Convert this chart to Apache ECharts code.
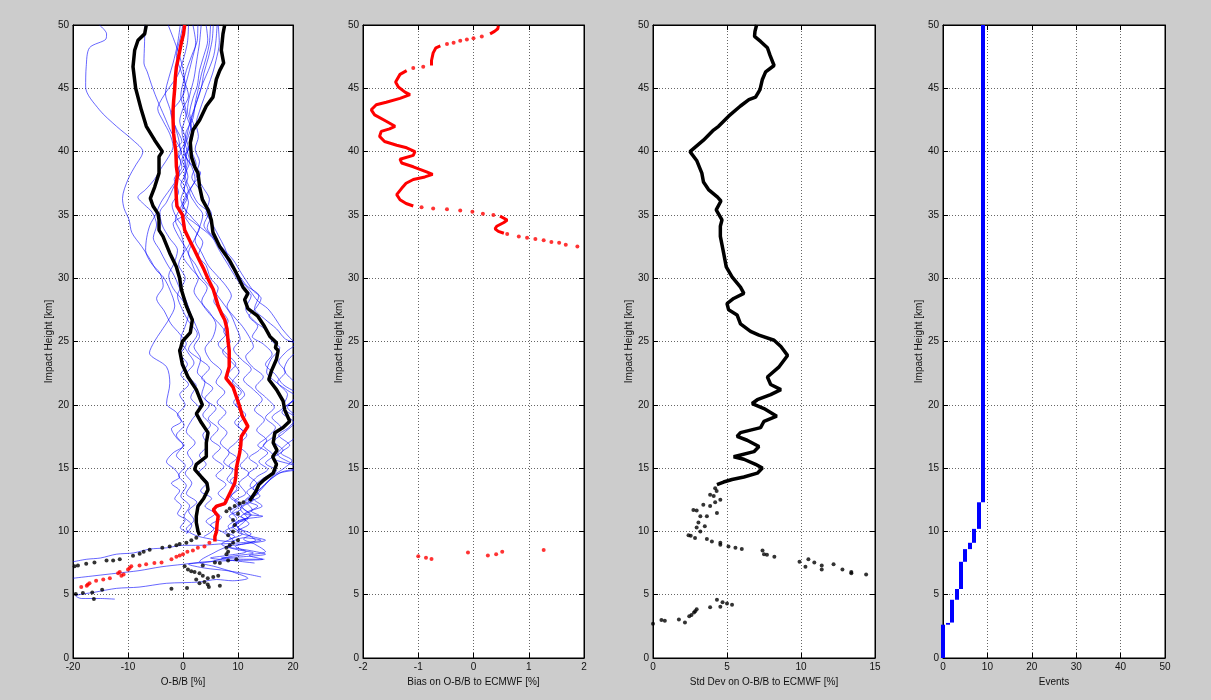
<!DOCTYPE html>
<html><head><meta charset="utf-8">
<script src="https://cdn.jsdelivr.net/npm/echarts/dist/echarts.min.js"></script>
<style>html,body{margin:0;padding:0;background:#cccccc}#c{width:1211px;height:700px}</style>
</head><body><div id="c"></div><script>
// ---------- Panel 1: O-B/B [%] ----------
const meanLine = [[0.3,50],[0.1,49.3],[-0.3,48.6],[-0.8,47.5],[-1.2,46.7],[-1.4,45.8],[-1.5,45],[-1.7,44],[-1.8,43.3],[-1.8,42.4],[-1.7,41.4],[-1.5,40.6],[-1.3,40],[-1.2,38.8],[-1.0,38.2],[-1.3,37.2],[-1.2,36.2],[-1.1,35.7],[-0.4,35.2],[-0.1,35],[0.3,33.8],[1.2,33],[2.0,32.3],[3.0,31.4],[3.8,30.7],[4.5,30],[5.5,29.1],[6.0,28.4],[6.4,27.8],[7.0,27.2],[7.6,26.7],[8.0,26],[8.2,25],[8.4,24.3],[8.4,23],[7.8,22.1],[9.1,21.4],[10.2,20],[10.8,19.1],[11.8,18.3],[10.6,17.5],[10.5,16.8],[10.3,16.2],[9.7,15],[9.6,14.3],[9.4,13.8],[8.5,13.0],[7.6,12.2],[6.1,12.0],[5.5,11.7],[6.4,11.2],[6.2,10.6],[6.1,10],[5.8,9.6],[5.8,9.2]];
const meanDots = [[4.8,9.1],[3.9,8.8],[2.7,8.7],[1.8,8.5],[0.8,8.4],[0.0,8.2],[-0.6,8.1],[-1.2,8.0],[-2.1,7.8],[-3.9,7.55],[-5.2,7.5],[-6.7,7.4],[-7.9,7.3],[-9.4,7.25],[-9.7,7.1],[-10.0,7.0],[-11.5,6.8],[-11.8,6.7],[-10.8,6.6],[-11.2,6.5],[-13.3,6.3],[-14.5,6.2],[-15.8,6.1],[-17.0,5.9],[-17.3,5.8],[-17.5,5.7],[-18.5,5.6]];
const lowerLine = [[-6.67,50],[-6.97,49.3],[-8.18,48.8],[-8.79,48],[-9.09,46.7],[-8.61,45],[-7.58,43.3],[-6.67,42],[-5.15,40.9],[-3.76,40],[-4.36,39.6],[-4.36,38.3],[-5.15,37.2],[-5.94,36.3],[-5.45,35.7],[-4.55,35.1],[-4.36,34.6],[-4.36,33.8],[-3.64,33.3],[-2.42,32],[-1.21,30.9],[-0.61,30],[-0.3,29.1],[0.61,27.8],[1.7,26.7],[1.33,25.7],[-0.12,25],[-0.42,24.5],[-0.61,24.3],[-0.12,23.2],[0.91,22.2],[2.42,21.2],[3.52,20],[2.42,19.3],[3.33,18.6],[4.55,17.8],[4.24,17],[4.24,15.9],[2.42,15.3],[2.12,14.9],[3.33,14.3],[4.36,13.8],[4.55,13.3],[3.76,12.6],[2.73,12],[2.42,11.2],[2.42,10.7],[2.73,10],[3.03,9.7]];
const lowerDots = [[2.42,9.5],[1.52,9.3],[0.61,9.1],[-0.61,9.0],[-1.21,8.9],[-2.42,8.8],[-3.76,8.7],[-6.06,8.55],[-7.15,8.4],[-7.88,8.24],[-9.09,8.08],[-11.5,7.8],[-12.7,7.7],[-13.9,7.7],[-16.1,7.55],[-17.6,7.45],[-19.1,7.3],[-19.7,7.24],[-18.2,5.13],[-19.5,5.05],[-16.5,5.18],[-14.7,5.4],[-16.2,4.66]];
const upperLine = [[7.58,50],[7.27,49.3],[6.97,48],[7.39,47],[6.67,46.4],[6.06,45.7],[5.45,44.3],[4.24,43.6],[3.03,42.5],[1.82,41.7],[1.33,40.7],[1.52,39.6],[2.12,38.8],[2.73,38.3],[3.03,37.2],[3.52,36.2],[4.55,35.4],[5.15,34.6],[5.45,33.6],[6.67,32.5],[8.48,31.4],[9.7,30.4],[10.9,29.3],[11.8,28.8],[11.2,28.3],[11.8,27.6],[13.6,27.0],[14.8,26.2],[15.8,25.4],[17.0,24.9],[16.8,24.5],[17.3,24.3],[17.0,23.6],[16.1,22.7],[15.6,22.0],[17.0,21.2],[18.2,20.3],[18.5,19.6],[19.4,18.7],[18.2,18.2],[16.7,17.8],[16.4,17.0],[17.1,16.4],[16.3,15.9],[17.0,15.3],[16.4,14.6],[14.8,14.1],[13.8,13.7],[13.3,13.2],[12.7,12.8],[12.1,12.4]];
const upperDots = [[11.0,12.3],[10.3,12.2],[9.4,12.0],[8.5,11.8],[7.9,11.6],[10.0,11.4],[9.1,10.9],[9.4,10.5],[9.1,10.0],[8.2,9.7],[10.0,9.3],[9.1,9.1],[8.5,8.9],[7.9,8.7],[8.2,8.4],[7.9,8.2],[9.7,7.8],[8.2,7.7],[6.7,7.5],[5.8,7.55],[3.6,7.3],[0.3,7.24],[0.9,7.0],[1.5,6.85],[2.1,6.8],[3.0,6.7],[3.6,6.5],[4.5,6.3],[5.5,6.4],[6.4,6.5],[2.4,6.2],[3.0,5.9],[3.9,6.0],[4.5,5.8],[4.7,5.6],[6.7,5.7],[-2.1,5.47],[0.73,5.53]];

const profile01 = [[-15.2,50],[-13.9,49.3],[-14,48.9],[-17,48.2],[-17.6,46.7],[-17.7,45.1],[-15.2,43.3],[-12.1,42],[-9.1,40.9],[-7.3,40],[-7.6,39.6],[-8.5,39],[-10,37.8],[-11,36.3],[-10.7,35.5],[-9.8,34.6],[-9.3,33.6],[-7.5,32.5],[-6,31.5],[-4.8,30.6],[-3.6,30.1],[-2.4,29.1],[-1.5,27.8],[-2.5,26.8],[-4,25.8],[-5.2,25.0],[-6.1,24.1],[-3,23],[-2.4,21.7],[-3.0,20.1],[-1.2,19.4],[-0.3,18.7],[-2.1,18.1],[-1.0,17.3],[0.2,16.8],[-1.8,16.2],[-3.0,15.5],[-1.5,14.9],[-0.6,14.3],[-2.1,13.8],[-0.6,13.2],[-1.5,12.6],[-0.3,12.0],[-1.0,11.4],[0.4,10.9],[-0.5,10.3],[1.0,9.9]];
const profile02 = [[-6.9,50],[-7.0,48.5],[-7.1,47],[-6.5,46.3],[-5.5,45],[-4.6,44],[-3.4,42.8],[-2.2,41.6],[-0.8,40.5],[-0.3,40],[-1.2,39.2],[-0.6,38.4],[-1.6,37.3],[-3.0,36],[-4.2,35.2],[-3.8,34.2],[-2.5,33.2],[-1.0,32.2],[-1.6,31.2],[-2.6,30.2],[-1.8,29.2],[0.0,28.2],[1.0,27.2],[0.4,26.2],[-0.4,25.2],[0.8,24.2],[2.0,23.3],[0.6,22.4],[2.4,21.5],[1.4,20.6],[3.0,19.7],[1.6,18.8],[0.6,17.9],[2.2,17.0],[0.8,16.2],[1.8,15.4],[0.4,14.6],[1.6,13.8],[0.6,13.0],[2.5,12.3],[1.0,11.6],[2.0,10.9],[0.6,10.2],[2.2,9.7],[5.0,9.4],[8.5,9.2],[11.0,9.5],[14.2,9.3],[10.5,9.1],[6.5,9.0],[3.0,8.9],[0.0,8.9],[-3.0,8.7],[-6.1,8.6],[-9.0,8.3],[-12.1,8.2],[-15.0,7.9],[-17.5,7.8],[-20,7.6]];
const profile03 = [[-2.7,50],[-1.8,49],[-0.8,47.8],[0.0,46.5],[0.4,45],[-0.6,44],[-2.2,43],[-1.2,41.8],[-0.2,40.8],[-1.5,40.1],[-0.4,39.2],[-1.1,38.2],[0.3,37.2],[-0.4,36.2],[0.6,35.2],[-1.8,34.3],[-0.8,33.3],[0.6,32.3],[1.6,31.2],[2.6,30.2],[4.4,29.2],[3.4,28.2],[5.0,27.2],[6.0,26.3],[5.4,25.3],[4.0,24.4],[5.0,23.5],[7.0,22.6],[6.0,21.8],[7.6,21],[6.2,20.2],[7.8,19.4],[6.4,18.6],[8.0,17.8],[6.8,17],[8.4,16.2],[7.4,15.5],[9.0,14.8],[8.0,14.1],[9.8,13.4],[8.6,12.7],[10.4,12.1],[9.0,11.5],[11.4,10.9],[10.0,10.3],[12.4,9.8],[11.0,9.4],[13.0,9.0],[15.0,8.4],[12.0,8.1],[14.5,7.8],[9.0,7.7],[4.0,7.6],[0.0,7.4],[-4.0,7.2],[-8.0,6.9],[-12.0,6.7],[-16.0,6.5],[-20,6.3]];
const profile04 = [[1.8,50],[2.3,48.6],[1.6,47.2],[0.8,45.8],[0.0,44.4],[0.6,43],[-0.2,41.6],[0.6,40.3],[1.2,39.2],[0.4,38.1],[1.4,37],[2.6,36],[4.6,35.1],[3.8,34.2],[5.4,33.2],[6.6,32.2],[8.0,31.2],[9.4,30.2],[10.8,29.3],[12.4,28.6],[11.4,27.6],[13.0,26.6],[15.4,25.8],[16.2,25],[17.6,24.5],[16.0,23.6],[15.2,22.6],[17.4,21.6],[19.0,20.8],[18.2,19.8],[20.6,19],[22,18.2],[20.4,17.4],[18.6,16.8],[17.2,16.1],[19.2,15.5],[21.5,15.1],[18,14.7],[16.2,14.2],[14.6,13.6],[13.2,13],[11.6,12.6],[10.6,12.0],[12.4,11.3],[9.6,10.6],[11.2,9.9],[13.2,9.3],[9.5,8.8],[11.5,8.4],[8.0,8.1],[5.0,7.9],[9.0,7.7],[13.0,7.5]];
const profile05 = [[3.3,50],[3.0,48.6],[2.5,47.2],[2.0,45.8],[1.2,44.4],[0.8,43.2],[1.5,42.1],[0.8,41],[0.1,40],[1.5,39],[3.2,38.3],[2.0,37.5],[0.6,36.6],[-0.4,35.6],[-1.4,34.6],[-0.4,33.6],[0.2,32.3],[-0.8,31.1],[0.4,30],[-1.0,28.6],[-0.2,27.6],[1.0,26.6],[2.6,25.6],[1.0,24.4],[3.0,23.6],[4.8,22.9],[3.4,22.1],[5.4,21.3],[4.0,20.5],[6.0,19.7],[4.6,18.9],[6.4,18.1],[5.0,17.3],[6.8,16.6],[5.4,15.9],[7.4,15.1],[6.0,14.4],[7.8,13.7],[6.4,13],[8.0,12.3],[5.6,11.7],[7.0,11.1],[5.0,10.5],[7.4,9.9],[9.2,9.2],[6.0,8.4],[3.0,7.6],[6.0,7.2],[9.0,6.8],[11.8,6.3],[9.0,6.1],[6.1,6.2],[3.0,6.0],[-3.0,5.9],[-8.0,5.6],[-12.1,5.5],[-16.0,5.2],[-19.5,4.9],[-18.5,4.7],[-15,4.7],[-12.4,4.65]];
const profile06 = [[4.2,50],[4.5,48.8],[3.8,47.6],[3.0,46.4],[2.6,45.2],[1.8,44.2],[1.2,43],[2.0,42],[1.2,41],[1.6,40],[2.4,39],[1.6,38],[3.0,37],[4.0,36],[5.2,35],[4.4,34],[6.0,33],[7.4,32],[8.6,31],[10.2,30.2],[11.6,29.4],[13.8,28.6],[13.0,27.6],[14.8,26.8],[17.0,26.0],[18.6,25.2],[21.5,24.6],[19.2,23.6],[18.4,22.8],[19.8,22.0],[22,21.3],[19.6,20.2],[18.0,19.4],[20.2,18.6],[18.4,17.8],[16.6,17.1],[18.2,16.4],[16.4,15.8],[19.6,15.3],[22,15.0],[17.5,14.6],[15.6,14.0],[14.2,13.4],[12.8,12.9],[11.8,12.4],[13.6,12.0],[11.2,11.4],[14.5,11.2],[10.4,10.9],[9.0,10.4],[10.8,9.8],[8.4,9.4]];
const profile07 = [[5.5,50],[5.3,48.8],[4.6,47.4],[3.8,46.2],[3.3,45],[2.4,43.8],[1.4,42.6],[0.8,41.4],[0.2,40.2],[0.8,39.2],[0.2,38],[1.0,36.8],[0.0,35.8],[1.6,34.8],[3.0,34],[2.0,33],[1.0,32],[2.4,31],[3.6,30],[5.6,29],[7.0,28.2],[8.6,27.2],[9.6,26.2],[10.4,25.2],[9.2,24.4],[10.6,23.6],[12.4,22.8],[11.0,22],[12.8,21.2],[14.4,20.4],[13.0,19.6],[14.8,18.8],[13.4,18],[15.2,17.2],[13.8,16.4],[12.0,15.8],[13.6,15.2],[11.8,14.5],[13.4,13.8],[11.6,13.1],[12.8,12.5],[10.8,11.9],[12.2,11.3],[10.2,10.7],[8.8,10.2]];
const profile08 = [[6.2,50],[6.0,48.8],[5.6,47.6],[4.6,46.4],[3.6,45.4],[2.8,44.4],[2.0,43.2],[1.4,42.2],[1.6,41],[0.6,40],[0.4,39],[0.9,38],[0.2,37],[1.0,36],[0.5,35],[2.0,34.4],[4.4,33.6],[5.8,33],[7.6,32.2],[9.2,31.4],[10.6,30.4],[11.8,29.6],[12.8,29],[14.2,28.4],[13.2,27.6],[12.0,27],[13.6,26.2],[12.6,25.4],[14.6,24.8],[16.2,24.0],[15.0,23.2],[16.8,22.4],[18.2,21.6],[20.6,21.0],[22,20.8],[19.6,20.2],[17.8,19.6],[16.2,19.0],[17.8,18.2],[16.2,17.4],[14.6,16.8],[16.4,16.0],[15.0,15.4],[17.0,14.8],[14.6,14.2],[12.8,13.4],[14.0,12.8],[11.8,12.3],[10.4,11.8],[11.8,11.0],[9.6,10.6],[10.4,10.0]];
const profile09 = [[1.0,50],[0.8,48.6],[0.0,47.2],[-1.0,46],[-2.6,45],[-3.8,44.2],[-4.6,43.4],[-3.6,42.4],[-2.4,41.4],[-1.8,40.4],[-2.6,39.6],[-3.8,38.8],[-5.2,37.8],[-6.8,37],[-8.2,36.4],[-7.0,35.8],[-5.6,35.2],[-4.8,34.2],[-5.4,33.2],[-4.2,32.2],[-3.0,31.2],[-1.6,30.2],[-0.6,29.2],[0.6,28.2],[1.4,27.2],[2.4,26.2],[3.0,25.4],[2.0,24.6],[3.2,23.6],[2.6,22.6],[4.0,21.8],[3.4,20.8],[4.8,20.0],[3.6,19.2],[5.0,18.4],[3.6,17.6],[4.4,16.8],[3.0,16.0],[4.2,15.3],[2.8,14.6],[4.4,13.9],[3.2,13.2],[5.2,12.6],[4.0,12.0],[5.8,11.4],[4.2,10.8],[5.6,10.2],[3.8,9.6]];
const profile10 = [[2.7,50],[2.6,48.8],[1.6,47.6],[0.6,46.4],[0.0,45.4],[-0.4,44.4],[0.2,43.4],[1.0,42.4],[1.8,41.4],[1.2,40.4],[0.6,39.6],[1.6,38.8],[2.2,37.8],[1.2,36.8],[2.4,35.8],[3.6,35.0],[3.0,34.0],[2.2,33.0],[3.4,32.0],[4.6,31.0],[6.2,30.2],[7.8,29.4],[8.8,28.6],[8.0,27.8],[9.2,27.0],[10.8,26.2],[12.0,25.4],[12.8,24.6],[11.4,23.8],[12.6,23.0],[14.6,22.2],[13.2,21.4],[15.0,20.6],[16.6,19.8],[15.0,19.0],[16.8,18.2],[15.2,17.4],[13.6,16.8],[15.4,16.2],[13.8,15.5],[15.4,14.9],[13.4,14.3],[12.2,13.6],[13.6,13.0],[11.4,12.4],[12.6,11.7],[10.6,11.2],[12.0,10.6],[9.8,10.0],[12.5,9.6],[15.0,9.3],[11.0,9.0],[8.0,8.8],[12.0,8.5],[15.0,8.2],[11.0,8.0],[7.0,7.9],[11.0,7.8],[14.8,7.8]];
const profile11 = [[-0.5,50],[-1.0,48.5],[-1.8,47],[-2.6,45.8],[-3.2,44.6],[-2.4,43.4],[-1.6,42.2],[-0.8,41],[-0.4,40],[0.4,39],[-0.8,38],[-2.4,37],[-4.0,36],[-5.0,35],[-6.0,34.2],[-6.6,33.2],[-6.8,32.2],[-5.8,31.2],[-4.2,30.4],[-3.6,29.4],[-4.8,28.4],[-3.4,27.4],[-2.2,26.4],[-0.6,25.6],[0.6,24.8],[-0.4,24.0],[0.8,23.2],[-0.4,22.4],[1.0,21.6],[-0.6,20.8],[0.4,20.0],[-1.0,19.2],[0.2,18.4],[-1.2,17.6],[0.0,16.8],[-1.2,16.0],[0.4,15.2],[-0.8,14.4],[0.6,13.6],[-0.4,12.8],[1.2,12.0],[0.2,11.2],[1.6,10.5],[0.6,9.8]];
const profile12 = [[5.0,50],[4.8,48.6],[4.2,47.4],[3.4,46.2],[2.8,45.0],[2.2,43.8],[1.8,42.6],[0.6,41.6],[0.2,40.6],[-0.8,39.8],[-0.2,38.8],[-1.6,37.8],[-0.8,36.8],[-2.0,35.8],[-1.2,34.8],[0.4,33.8],[1.2,32.8],[0.0,31.8],[1.4,30.8],[2.8,30.0],[2.0,29.0],[3.4,28.0],[4.8,27.2],[6.6,26.4],[7.8,25.6],[6.4,24.8],[8.0,24.0],[9.6,23.2],[8.2,22.4],[9.8,21.6],[11.2,20.8],[9.6,20.0],[11.4,19.2],[10.0,18.4],[11.6,17.6],[10.2,16.8],[11.8,16.0],[10.4,15.2],[12.0,14.6],[10.2,13.8],[11.4,13.0],[9.4,12.4],[10.6,11.8],[8.4,11.2],[9.8,10.6],[7.6,10.0],[9.4,9.6],[7.0,9.0],[9.4,8.6],[12.8,8.3],[8.4,8.0],[5.0,7.6],[1.0,7.4],[4.0,7.1],[8.0,6.9],[12.0,6.6],[14.2,6.4]];
const profile13 = [[6.4,50],[6.6,48.6],[6.0,47.2],[5.4,46.2],[4.6,45.2],[3.8,44.2],[3.0,43.2],[2.4,42.2],[2.8,41.2],[2.2,40.2],[3.0,39.2],[2.4,38.2],[3.6,37.2],[4.8,36.2],[4.2,35.2],[5.2,34.4],[6.4,33.4],[7.6,32.4],[8.4,31.4],[9.4,30.6],[10.6,29.8],[12.2,29.0],[13.6,28.2],[15.4,27.6],[16.8,26.8],[18.0,26.0],[19.4,25.3],[20.4,24.8],[18.8,24.2],[17.4,23.4],[18.6,22.6],[17.2,21.8],[18.8,21.2],[20.6,20.6],[19.0,19.8],[20.6,19.0],[19.2,18.2],[17.4,17.6],[19.4,16.8],[17.8,16.2],[19.8,15.6],[18.4,15.0],[16.4,14.4],[15.2,13.8],[14.0,13.2],[12.8,12.6],[14.4,12.0],[12.4,11.6],[13.8,11.3]];
const profile14 = [[0.0,50],[-0.6,48.8],[-1.2,47.6],[-0.4,46.4],[0.4,45.4],[1.0,44.4],[0.0,43.4],[-0.6,42.4],[0.4,41.2],[1.0,40.2],[-0.2,39.4],[0.6,38.4],[-0.4,37.4],[0.8,36.4],[-0.2,35.4],[1.0,34.4],[2.4,33.6],[3.6,32.8],[2.8,31.8],[4.2,31.0],[5.0,30.0],[6.4,29.2],[5.6,28.2],[7.0,27.4],[8.2,26.6],[7.4,25.8],[8.6,25.0],[7.2,24.2],[8.8,23.4],[10.2,22.6],[9.0,21.8],[10.6,21.0],[9.2,20.2],[10.8,19.4],[9.4,18.6],[11.0,17.8],[9.6,17.0],[8.2,16.4],[9.8,15.8],[8.4,15.2],[10.0,14.6],[8.6,14.0],[10.2,13.4],[8.8,12.8],[10.4,12.2],[8.6,11.6],[9.8,11.0],[8.2,10.4],[9.2,9.8]];
const profiles = [profile01,profile02,profile03,profile04,profile05,profile06,profile07,profile08,profile09,profile10,profile11,profile12,profile13,profile14];

// ---------- Panel 2: Bias on O-B/B ----------
const biasLine1 = [[0.45,49.95],[0.44,49.7],[0.38,49.5],[0.30,49.3]];
const biasLine2 = [[-0.6,48.35],[-0.68,48.2],[-0.73,47.8],[-0.76,47.2],[-0.76,46.8]];
const biasLine3 = [[-1.21,46.4],[-1.33,46.1],[-1.41,45.5],[-1.36,45.1],[-1.24,44.7],[-1.15,44.5],[-1.33,44.2],[-1.58,43.9],[-1.76,43.7],[-1.85,43.3],[-1.79,42.9],[-1.58,42.4],[-1.42,42],[-1.52,41.8],[-1.67,41.6],[-1.70,41.2],[-1.61,40.8],[-1.39,40.5],[-1.21,40.3],[-1.06,40],[-1.09,39.7],[-1.33,39.4],[-1.30,39.1],[-1.09,38.8],[-0.85,38.4],[-0.74,38.2],[-0.88,38],[-1.09,37.8],[-1.22,37.5],[-1.30,37.1],[-1.39,36.6],[-1.33,36.2],[-1.22,35.9],[-1.09,35.7]];
const biasLine4 = [[0.48,34.9],[0.61,34.6],[0.55,34.4],[0.42,34.1],[0.39,33.9],[0.45,33.7],[0.55,33.55]];
const biasDots = [[0.15,49.1],[0.0,48.95],[-0.12,48.85],[-0.24,48.75],[-0.36,48.6],[-0.48,48.5],[-0.91,46.7],[-1.09,46.6],[-0.94,35.6],[-0.73,35.5],[-0.48,35.45],[-0.24,35.35],[-0.02,35.25],[0.17,35.1],[0.36,35.0],[0.61,33.5],[0.82,33.3],[0.97,33.2],[1.12,33.1],[1.27,33.0],[1.41,32.85],[1.55,32.8],[1.67,32.65],[1.88,32.5],[-1.0,8.03],[-0.86,7.92],[-0.76,7.82],[-0.10,8.34],[0.26,8.1],[0.41,8.2],[0.52,8.4],[1.27,8.53]];

// ---------- Panel 3: Std Dev ----------
const stdLine = [[7.0,50],[6.89,49.5],[6.86,49.1],[7.27,48.7],[7.73,48.2],[7.91,47.6],[8.18,46.8],[7.61,46.3],[7.39,45.7],[7.23,44.9],[6.93,44.3],[6.48,44.1],[5.91,43.6],[5.11,42.8],[4.43,42.0],[4.09,41.7],[3.41,40.9],[2.5,40],[2.95,39.3],[3.30,38.3],[3.41,37.6],[3.75,37],[4.36,36.4],[4.59,36.1],[4.27,35.4],[4.66,34.6],[4.55,34.1],[4.55,33.3],[4.77,32],[4.95,30.9],[5.34,30.1],[5.91,29.3],[6.14,28.8],[5.45,28.4],[5.0,28.0],[5.11,27.5],[5.68,27.1],[5.91,26.4],[6.59,25.8],[7.16,25.5],[8.18,25.1],[8.64,24.6],[9.09,23.9],[8.52,23.0],[7.73,22.2],[7.95,21.6],[8.64,21.2],[7.95,20.8],[7.05,20.4],[6.70,20.1],[7.50,19.7],[8.36,19.1],[7.5,18.7],[7.27,18.2],[5.91,17.8],[5.68,17.5],[6.36,17.2],[7.16,16.7],[6.82,16.3],[5.45,15.9],[6.14,15.7],[6.93,15.3],[7.39,15.0],[7.05,14.6],[6.14,14.3],[5.34,14.1],[4.77,13.9],[4.32,13.7]];
const stdDots = [[4.2,13.4],[4.3,13.2],[4.1,12.8],[3.86,12.9],[4.55,12.5],[4.2,12.3],[3.4,12.1],[3.86,12.0],[2.73,11.7],[2.95,11.65],[4.32,11.45],[3.64,11.2],[3.2,11.2],[3.07,10.7],[3.5,10.4],[2.95,10.3],[3.2,10.0],[2.4,9.7],[2.55,9.65],[2.84,9.47],[3.64,9.4],[3.98,9.2],[4.55,9.1],[4.55,8.95],[5.1,8.8],[5.57,8.7],[6.0,8.6],[7.4,8.5],[7.5,8.2],[7.7,8.15],[8.2,8.0],[9.9,7.6],[10.5,7.8],[10.9,7.55],[10.3,7.2],[11.4,7.3],[11.4,7.0],[12.2,7.4],[12.8,7.0],[13.4,6.8],[13.4,6.7],[14.4,6.6],[4.32,4.6],[4.7,4.4],[5.0,4.3],[5.34,4.2],[4.55,4.05],[3.86,4.0],[2.95,3.85],[2.85,3.7],[2.77,3.6],[2.6,3.4],[2.45,3.3],[1.75,3.05],[2.16,2.8],[0.57,3.0],[0.8,2.95],[0.0,2.7]];

// ---------- Panel 4: Events ----------
const eventCount = [0, 1, 2, 3, 4, 5, 6, 7, 8, 9];
const eventFrom  = [0, 2.63, 2.8, 4.6, 5.45, 7.6, 8.6, 9.1, 10.2, 12.3];
const eventTo    = [2.63, 2.77, 4.6, 5.45, 7.6, 8.6, 9.1, 10.2, 12.3, 50];

// ---------- Axes ----------
const xRanges = [[-20, 20, 10], [-2, 2, 1], [0, 15, 5], [0, 50, 10]];
const xNames = ['O-B/B [%]', 'Bias on O-B/B to ECMWF [%]', 'Std Dev on O-B/B to ECMWF [%]', 'Events'];
const yRange = [0, 50, 5];
const yName = 'Impact Height [km]';

const FONT = '"Liberation Sans", Arial, Helvetica, sans-serif';
const gridLefts = [73, 363, 653, 943];
const gridWidths = [220, 221, 222, 222];

const grid = gridLefts.map((l, i) => ({left: l, top: 25, width: gridWidths[i], height: 633,
  show: true, backgroundColor: '#ffffff', borderColor: '#000', borderWidth: 1}));

const tick = {inside: true, length: 5, lineStyle: {color: '#000', width: 1}};
const split = {show: true, lineStyle: {color: '#666', width: 1, type: [1, 2]}};
const lab = {color: '#111', fontSize: 10, fontFamily: FONT, showMinLabel: true, showMaxLabel: true};

const xAxis = [], yAxis = [];
xRanges.forEach((r, i) => {
  xAxis.push({gridIndex: i, type: 'value', min: r[0], max: r[1], interval: r[2], position: 'bottom',
    axisLine: {show: true, onZero: false, lineStyle: {color: '#000'}}, axisTick: tick,
    axisLabel: Object.assign({margin: 4}, lab), splitLine: split,
    name: xNames[i], nameLocation: 'middle', nameGap: 14,
    nameTextStyle: {color: '#111', fontSize: 10, fontFamily: FONT}});
});
xRanges.forEach((r, i) => {
  xAxis.push({gridIndex: i, type: 'value', min: r[0], max: r[1], interval: r[2], position: 'top',
    axisLine: {show: true, onZero: false, lineStyle: {color: '#000'}}, axisTick: tick,
    axisLabel: {show: false}, splitLine: {show: false}});
});
for (let i = 0; i < 4; i++) {
  yAxis.push({gridIndex: i, type: 'value', min: yRange[0], max: yRange[1], interval: yRange[2], position: 'left',
    axisLine: {show: true, onZero: false, lineStyle: {color: '#000'}}, axisTick: tick,
    axisLabel: Object.assign({margin: 4}, lab), splitLine: split,
    name: yName, nameLocation: 'middle', nameGap: 17, nameRotate: 90,
    nameTextStyle: {color: '#111', fontSize: 10, fontFamily: FONT}});
}
for (let i = 0; i < 4; i++) {
  yAxis.push({gridIndex: i, type: 'value', min: yRange[0], max: yRange[1], interval: yRange[2], position: 'right',
    axisLine: {show: true, onZero: false, lineStyle: {color: '#000'}}, axisTick: tick,
    axisLabel: {show: false}, splitLine: {show: false}});
}

// ---------- Series ----------
const series = [];
function lineS(data, p, color, width, z, smooth) {
  series.push({type: 'line', xAxisIndex: p, yAxisIndex: p, data: data, symbol: 'none', showSymbol: false,
    smooth: smooth || false, lineStyle: {color: color, width: width}, z: z, silent: true, animation: false, clip: true});
}
function dotS(data, p, color, size, z) {
  series.push({type: 'scatter', xAxisIndex: p, yAxisIndex: p, data: data, symbol: 'circle', symbolSize: size,
    itemStyle: {color: color}, z: z, silent: true, animation: false, clip: true});
}
profiles.forEach(pr => lineS(pr, 0, 'rgba(0,0,255,0.75)', 0.8, 2, 0.3));
lineS(lowerLine, 0, '#000', 3.5, 3);
lineS(upperLine, 0, '#000', 3.5, 3);
dotS(lowerDots, 0, '#000', 4, 3);
dotS(upperDots, 0, '#000', 4, 3);
lineS(meanLine, 0, '#ff0000', 3.5, 4);
dotS(meanDots, 0, '#ff0000', 4, 4);

[biasLine1, biasLine2, biasLine3, biasLine4].forEach(b => lineS(b, 1, '#ff0000', 3, 3));
dotS(biasDots, 1, '#ff0000', 4, 3);

lineS(stdLine, 2, '#000', 3.5, 3);
dotS(stdDots, 2, '#000', 4, 3);

series.push({type: 'lines', coordinateSystem: 'cartesian2d', xAxisIndex: 3, yAxisIndex: 3, silent: true, animation: false,
  lineStyle: {color: '#0000ff', width: 4, opacity: 1},
  data: eventCount.map((c, i) => ({coords: [[c, eventFrom[i]], [c, eventTo[i]]]}))});

const chart = echarts.init(document.getElementById('c'), null, {renderer: 'canvas'});
chart.setOption({backgroundColor: '#cccccc', animation: false, grid, xAxis, yAxis, series});
</script></body></html>
